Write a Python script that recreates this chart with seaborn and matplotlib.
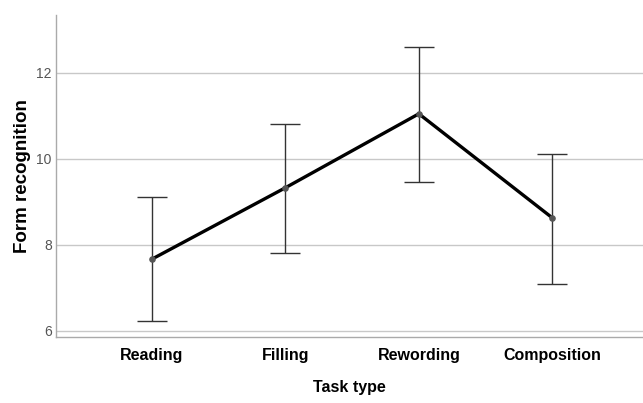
import matplotlib
matplotlib.use("Agg")
import matplotlib.pyplot as plt
import seaborn as sns
import pandas as pd

tasks = ["Reading", "Filling", "Rewording", "Composition"]
means = [7.67, 9.33, 11.05, 8.63]
upper = [9.11, 10.82, 12.60, 10.12]
lower = [6.23, 7.81, 9.47, 7.09]

df = pd.DataFrame({"Task type": tasks, "Form recognition": means})

sns.set_style("white")
plt.rcParams["font.family"] = ["Liberation Sans Narrow", "Liberation Sans", "DejaVu Sans"]

fig = plt.figure(figsize=(6.43, 4.03), dpi=100)
ax = fig.add_axes([0.087, 0.164, 0.913, 0.799])

sns.pointplot(data=df, x="Task type", y="Form recognition", color="black",
              errorbar=None, markers="o", linewidth=2.4, markersize=0, ax=ax)
xs = list(range(len(tasks)))
yerr = [[m - l for m, l in zip(means, lower)], [u - m for m, u in zip(means, upper)]]
ax.errorbar(xs, means, yerr=yerr, fmt="none", ecolor="#333333", elinewidth=1.0,
            capsize=10.5, capthick=1.0, zorder=3)
ax.scatter(xs, means, s=14, color="#555555", zorder=4)

ax.set_xlim(-0.72, 3.68)
ax.set_ylim(5.86, 13.35)
ax.set_yticks([6, 8, 10, 12])
ax.grid(axis="y", color="#c8c8c8", linewidth=1.0)
ax.set_axisbelow(True)
for s in ["top", "right"]:
    ax.spines[s].set_visible(False)
for s in ["left", "bottom"]:
    ax.spines[s].set_color("#aaaaaa")
    ax.spines[s].set_linewidth(1.0)
ax.tick_params(axis="both", length=0)
ax.tick_params(axis="y", labelsize=10, labelcolor="#555555", pad=3)
ax.tick_params(axis="x", labelsize=11.5, labelcolor="black", pad=8)
for t in ax.get_xticklabels():
    t.set_fontweight("bold")
ax.set_xlabel("Task type", fontsize=11.5, fontweight="bold", color="black", labelpad=12)
ax.set_ylabel("Form recognition", fontsize=13.5, fontweight="bold", color="black",
              labelpad=4, family=["Liberation Sans", "DejaVu Sans"])

fig.savefig("out.png", dpi=100)
